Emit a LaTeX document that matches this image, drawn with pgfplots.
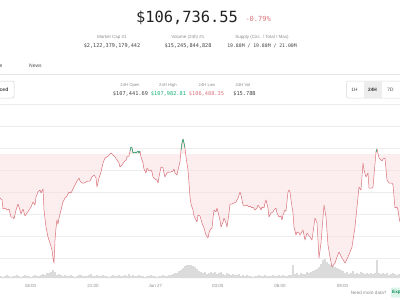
\documentclass[border=0pt]{standalone}
\usepackage{fontspec}
\setmainfont{Liberation Sans}
\newfontfamily\monof{DejaVu Sans Mono}
\usepackage{pgfplots}
\usepackage{pgfplotstable}
\pgfplotsset{compat=1.18}
\usepgfplotslibrary{fillbetween}
\definecolor{cmcred}{RGB}{218,116,124}
\definecolor{cmcgreen}{RGB}{22,178,118}
\definecolor{txtgray}{RGB}{140,140,140}
\definecolor{dark}{RGB}{34,34,34}
\definecolor{volgray}{RGB}{200,200,200}
\definecolor{pinkfill}{RGB}{250,222,224}

\pgfplotstableread{
x p
0 107090
2 107074
3 107002
5 107010
7 106994
9 107002
11 106938
13 106938
14 106922
16 106994
18 107042
20 106994
21 106962
23 107002
25 106946
27 106970
29 106994
31 107018
33 107058
35 107034
36 107098
38 107138
40 107154
41 107130
43 107162
44 106994
46 106858
48 106778
50 106730
52 106674
53 106610
54 106570
55 106754
56 106850
57 106914
58 106882
59 106930
61 106994
63 107058
65 107090
67 107106
69 107138
71 107130
73 107162
75 107194
77 107226
79 107250
80 107226
82 107210
84 107210
86 107218
88 107226
90 107226
92 107258
94 107274
96 107250
97 107178
99 107250
101 107298
103 107370
105 107410
107 107418
109 107434
111 107450
113 107434
115 107418
117 107394
119 107370
120 107338
122 107354
124 107378
126 107394
127 107418
129 107426
130 107466
131 107498
132 107490
133 107450
135 107458
136 107450
138 107466
139 107450
140 107466
141 107418
143 107370
144 107322
146 107290
147 107330
149 107306
151 107314
152 107298
153 107258
155 107242
157 107234
158 107210
159 107258
161 107338
163 107330
164 107290
165 107258
167 107290
169 107298
171 107298
173 107306
174 107322
175 107290
177 107274
178 107314
180 107378
181 107474
182 107530
183 107562
184 107530
185 107490
186 107418
188 107314
189 107210
190 107098
191 107042
193 106994
194 106946
196 106914
197 106898
198 106954
200 106946
202 106890
204 106850
206 106794
208 106770
209 106810
210 106834
212 106850
213 106930
214 106994
216 106978
217 107010
218 106978
220 106914
221 106858
223 106898
224 106930
226 106890
227 106858
229 106970
230 107042
232 107042
234 107050
236 107058
238 107090
240 107138
241 107114
243 107034
245 107026
247 107034
249 107018
250 107026
252 107010
253 107018
255 106994
257 107010
258 107034
260 107010
261 106994
262 107018
264 107010
265 107050
266 107074
268 107010
269 106938
271 106970
273 106978
274 106994
276 107010
277 106970
279 106938
281 106946
282 106914
283 106954
285 106994
286 106986
288 107138
289 107154
290 107138
291 107074
293 106970
294 106858
296 106794
297 106818
299 106810
300 106794
303 106834
305 106754
307 106810
310 106778
312 106754
315 106930
317 106890
318 106754
319 106610
321 106730
324 107034
326 106938
328 106714
330 106618
332 106538
335 106570
337 106618
339 106658
342 106610
345 106570
348 106618
352 106698
355 106858
357 107018
359 107178
361 107154
363 107370
364 107314
366 107258
368 107290
369 107170
372 107170
373 107178
376 107458
377 107482
379 107410
382 107386
383 107402
385 107410
387 107234
389 107210
392 107210
393 107194
395 107010
397 107018
398 106994
399 106938
400 106898
}\pricetab

\pgfplotstableread{
x v
1 2
3 1
5 2
7 3
9 2
11 1
13 2
15 2
17 3
19 2
21 1
23 2
25 3
27 2
29 2
31 1
33 2
35 3
37 2
39 2
41 3
43 4
45 3
47 5
49 5
51 6
53 8
55 6
57 3
59 4
61 3
63 2
65 3
67 2
69 2
71 3
73 2
75 1
77 2
79 3
81 3
83 2
85 2
87 2
89 3
91 4
93 2
95 2
97 3
99 2
101 2
103 3
105 2
107 2
109 1
111 2
113 3
115 2
117 2
119 3
121 2
123 2
125 3
127 2
129 4
131 2
133 3
135 2
137 2
139 3
141 2
143 2
145 1
147 2
149 2
151 3
153 2
155 2
157 1
159 2
161 2
163 3
165 2
167 2
169 3
171 3
173 4
175 5
177 5
179 7
181 8
183 10
185 12
187 13
189 13
191 13
193 12
195 11
197 9
199 7
201 6
203 5
205 6
207 4
209 5
211 6
213 5
215 6
217 4
219 5
221 6
223 4
225 3
227 5
229 4
231 3
233 4
235 3
237 3
239 4
241 2
243 3
245 2
247 3
249 2
251 2
253 1
255 2
257 2
259 3
261 2
263 2
265 3
267 2
269 2
271 2
273 3
275 2
277 2
279 3
281 2
283 3
285 2
287 2
289 3
291 3
293 13
295 4
297 5
299 3
301 5
303 4
305 4
307 6
309 5
311 6
313 7
315 8
317 9
319 11
321 14
323 18
325 19
327 16
329 14
331 13
333 12
335 11
337 10
339 9
341 8
343 7
345 5
347 6
349 4
351 5
353 7
355 4
357 5
359 4
361 6
363 5
365 4
367 5
369 4
371 5
373 4
375 5
377 18
379 5
381 4
383 5
385 4
387 5
389 3
391 4
393 5
395 4
397 3
399 4
}\voltab

\begin{document}
\begin{tikzpicture}

% volume bars
\begin{axis}[
  scale only axis, width=400pt, height=178pt,
  at={(0pt,-100pt)}, anchor=north west,
  xmin=0, xmax=400, ymin=0, ymax=178,
  hide axis, clip=true,
  ybar, bar width=1.1pt,
]
\addplot[fill=volgray, draw=none] table[x=x, y=v] {\voltab};
\end{axis}

% price
\begin{axis}[
  scale only axis, width=400pt, height=178pt,
  at={(0pt,-100pt)}, anchor=north west,
  xmin=0, xmax=400, ymin=106450, ymax=107874,
  scaled y ticks=false,
  axis line style={draw=none},
  tick style={draw=none},
  ytick={107842,107666,107490,107314,107138,106962,106786,106610},
  yticklabels={},
  ymajorgrids, grid style={black!7, line width=0.4pt},
  xtick={30.5,92.9,155.3,217.7,280.1,342.5},
  xticklabels={18:00,21:00,Jun 27,03:00,06:00,09:00},
  xticklabel style={font=\fontsize{4.5}{5}\selectfont, text=txtgray, yshift=-2.5pt},
  fill between/on layer=main,
]
\addplot[draw=none, name path=price] table[x=x, y=p] {\pricetab};
\addplot[draw=none, name path=base] coordinates {(0,107442) (400,107442)};
\addplot[fill=pinkfill, draw=none, fill opacity=0.5] fill between[of=price and base];
\addplot[cmcred, line width=0.5pt, line join=round] table[x=x, y=p] {\pricetab};
\addplot[cmcgreen, line width=0.5pt, line join=round] coordinates {(130,107466) (131,107498) (132,107490) (133,107450) (135,107458) (136,107450) (138,107466) (139,107450) (140,107466)};
\addplot[cmcgreen, line width=0.5pt, line join=round] coordinates {(181,107474) (182,107530) (183,107562) (184,107530) (185,107490)};
\addplot[cmcgreen, line width=0.5pt, line join=round] coordinates {(376,107458) (377,107482)};
\end{axis}

\begin{scope}[x=1pt, y=-1pt]
% header
\node[font=\monof\fontsize{15.4}{16}\selectfont, text=dark] at (187,18) {\$106,736.55};
\node[font=\monof\fontsize{7}{8}\selectfont, text=cmcred, anchor=west] at (242,18.5) {-0.79\%};

\node[font=\fontsize{4.5}{5}\selectfont, text=txtgray] at (112,37) {Market Cap \#1};
\node[font=\monof\fontsize{5.2}{6}\selectfont, text=dark!85] at (112,45.5) {\$2,122,379,179,442};
\node[font=\fontsize{4.5}{5}\selectfont, text=txtgray] at (188,37) {Volume (24h) \#1};
\node[font=\monof\fontsize{5.2}{6}\selectfont, text=dark!85] at (188,45.5) {\$15,245,844,828};
\node[font=\fontsize{4.5}{5}\selectfont, text=txtgray] at (262,37) {Supply (Circ. / Total / Max)};
\node[font=\monof\fontsize{4.8}{6}\selectfont, text=dark!85] at (262,45.5) {19.88M / 19.88M / 21.00M};

% tabs
\node[font=\fontsize{5}{6}\selectfont, text=dark!80, anchor=west, inner sep=0pt] at (-0.5,66) {e};
\node[font=\fontsize{5}{6}\selectfont, text=dark!80] at (35.5,66) {News};
\draw[black!10, line width=0.5pt] (0,74.5) -- (400,74.5);

% left button
\draw[black!18, line width=0.5pt, rounded corners=2pt] (-20,81) rectangle (14,98);
\node[font=\bfseries\fontsize{5}{6}\selectfont, text=dark!85, anchor=west, inner sep=0pt] at (-0.5,89.5) {ced};

% 24h stats
\node[font=\fontsize{4.2}{5}\selectfont, text=txtgray] at (130,85) {24H Open};
\node[font=\monof\fontsize{5.3}{6}\selectfont, text=dark!85] at (130.5,94) {\$107,441.69};
\node[font=\fontsize{4.2}{5}\selectfont, text=txtgray] at (168,85) {24H High};
\node[font=\monof\fontsize{5.3}{6}\selectfont, text=cmcgreen] at (168.5,94) {\$107,982.81};
\node[font=\fontsize{4.2}{5}\selectfont, text=txtgray] at (207,85) {24H Low};
\node[font=\monof\fontsize{5.3}{6}\selectfont, text=cmcred] at (206.5,94) {\$106,488.35};
\node[font=\fontsize{4.2}{5}\selectfont, text=txtgray] at (243,85) {24H Vol};
\node[font=\monof\fontsize{5.3}{6}\selectfont, text=dark!85] at (244.5,94) {\$15.78B};

% range buttons
\draw[black!15, line width=0.5pt, rounded corners=2pt] (346.5,81) rectangle (410,98);
\fill[black!7] (363.5,81.3) rectangle (381.5,97.7);
\node[font=\fontsize{4.8}{6}\selectfont, text=dark!85] at (354.5,89.5) {1H};
\node[font=\bfseries\fontsize{4.8}{6}\selectfont, text=dark!90] at (372.5,89.5) {24H};
\node[font=\fontsize{4.8}{6}\selectfont, text=dark!85] at (390.5,89.5) {7D};

% footer
\node[font=\fontsize{4.6}{6}\selectfont, text=txtgray, anchor=east] at (390,292.5) {Need more data?};
\fill[cmcgreen!15, rounded corners=1pt] (391,287.5) rectangle (406,297.5);
\node[font=\bfseries\fontsize{4.6}{6}\selectfont, text=cmcgreen!80!black, anchor=west, inner sep=0pt] at (392,292.5) {Exp};
\end{scope}
\pgfresetboundingbox
\path[use as bounding box] (0pt,0pt) rectangle (400pt,-300pt);
\end{tikzpicture}
\end{document}
